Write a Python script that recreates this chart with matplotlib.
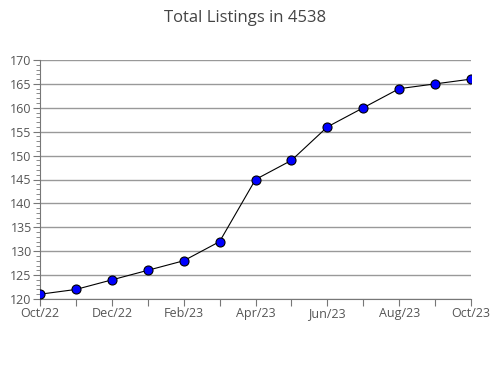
import matplotlib.pyplot as plt
from matplotlib.ticker import MultipleLocator

months = ['Oct/22', 'Nov/22', 'Dec/22', 'Jan/23', 'Feb/23', 'Mar/23', 'Apr/23',
          'May/23', 'Jun/23', 'Jul/23', 'Aug/23', 'Sep/23', 'Oct/23']
listings = [121, 122, 124, 126, 128, 132, 145, 149, 156, 160, 164, 165, 166]
yticks = list(range(120, 171, 5))

plt.rcParams['font.family'] = ['Open Sans', 'DejaVu Sans']

fig = plt.figure(figsize=(4.9, 3.8), dpi=100)
ax = fig.add_axes([40 / 490, 1 - 299 / 380, 431 / 490, 239 / 380])

x = list(range(len(months)))
ax.plot(x, listings, color='black', linewidth=0.8, marker='o', markersize=6.5,
        markerfacecolor='#0000ff', markeredgecolor='black', markeredgewidth=0.8, zorder=3)

ax.set_xlim(0, len(months) - 1)
ax.set_ylim(120, 170)
ax.set_yticks(yticks)
ax.yaxis.set_minor_locator(MultipleLocator(1))
ax.set_xticks(x)
ax.set_xticklabels([m if i % 2 == 0 else '' for i, m in enumerate(months)])

ax.grid(axis='y', color='#999999', linewidth=1)
ax.set_axisbelow(True)
for s in ['top', 'right']:
    ax.spines[s].set_visible(False)
for s in ['left', 'bottom']:
    ax.spines[s].set_color('#777777')
ax.tick_params(axis='both', colors='#777777', labelcolor='#555555', labelsize=9, length=5)
ax.tick_params(axis='y', which='minor', length=3, colors='#777777')
ax.tick_params(axis='x', pad=1)
ax.tick_params(axis='y', pad=1)

fig.suptitle('Total Listings in 4538', y=0.975, fontsize=12, color='#444444')

fig.savefig('out.png', dpi=100)
